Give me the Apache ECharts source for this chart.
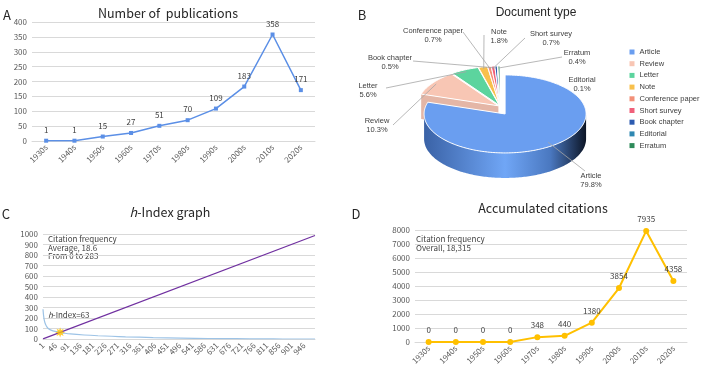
<!DOCTYPE html>
<html>
<head>
<meta charset="utf-8">
<title>Publications, document types, h-index and citations</title>
<script src="https://cdn.jsdelivr.net/npm/echarts@6/dist/echarts.min.js"></script>
<style>
  html, body { margin: 0; padding: 0; background: #fff; }
  #main { width: 721px; height: 377px; }
</style>
</head>
<body>
<div id="main"></div>
<script>
// ---- data ----
const decades = ['1930s', '1940s', '1950s', '1960s', '1970s', '1980s', '1990s', '2000s', '2010s', '2020s'];
const publications = [1, 1, 15, 27, 51, 70, 109, 183, 358, 171];
const citations = [0, 0, 0, 0, 348, 440, 1380, 3854, 7935, 4358];

const docTypes = ['Article', 'Review', 'Letter', 'Note', 'Conference paper', 'Short survey', 'Book chapter', 'Editorial', 'Erratum'];
const docShares = [79.8, 10.3, 5.6, 1.8, 0.7, 0.7, 0.5, 0.1, 0.4];

// h-index graph: papers ranked by citations, [rank, citations]
const paperCount = 986;
const rankedCitations = [[1, 283], [3, 225], [6, 175], [10, 140], [15, 115], [20, 100], [30, 85], [45, 72],
  [63, 63], [80, 55], [100, 48], [150, 38], [200, 31], [250, 26], [300, 21], [400, 14], [500, 9],
  [600, 5], [700, 3], [800, 1], [870, 0], [986, 0]];
const diagonal = [[1, 1], [986, 986]];
const hIndex = 63;

// ---- styles ----
const docColors = ['#6A9EF0', '#F8C6B4', '#5CD49E', '#F8C04C', '#F39078', '#F0607A', '#2C5BB0', '#2F88B2', '#2E8B5A'];
const FONT = '"Noto Sans CJK SC", "Noto Sans", sans-serif';
const ARIAL = '"Liberation Sans", Arial, sans-serif';
const PIE = { cx: 500, cy: 107, rx: 81, ry: 39, depth: 25, explodeMain: 8.6, explode: 2 };
// where each pie label sits: centre of first text line, and start of its leader line
const docLabelLayout = [
  { x: 591, y: 176, from: [585, 171], r: 0.9 },
  { x: 377, y: 121, from: [393, 125], r: 0.95 },
  { x: 368, y: 86, from: [386, 88], r: 0.95 },
  { x: 499, y: 32, from: [484, 35], r: 0.95 },
  { x: 433, y: 31, from: [463, 32], r: 0.95 },
  { x: 551, y: 34, from: [525, 38], r: 0.95 },
  { x: 390, y: 58, from: [413, 61], r: 0.95 },
  { x: 582, y: 80, from: null, r: 0.95 },
  { x: 577, y: 53, from: [562, 57], r: 0.95 }
];

const myChart = echarts.init(document.getElementById('main'), null, { renderer: 'canvas' });

function shade(hex, f) {
  const n = parseInt(hex.slice(1), 16);
  const r = Math.round(((n >> 16) & 255) * f);
  const g = Math.round(((n >> 8) & 255) * f);
  const b = Math.round((n & 255) * f);
  return 'rgb(' + r + ',' + g + ',' + b + ')';
}

// one slice of the tilted 3D pie
function renderDocSlice(params, api) {
  const i = params.dataIndex;
  const total = docShares.reduce((s, v) => s + v, 0);
  let before = 0;
  for (let k = 0; k < i; k++) before += docShares[k];
  const a0 = before / total * 2 * Math.PI;
  const a1 = (before + api.value(0)) / total * 2 * Math.PI;
  const mid = (a0 + a1) / 2;
  const ex = i === 0 ? PIE.explodeMain : PIE.explode;
  const cx = PIE.cx + ex * Math.sin(mid);
  const cy = PIE.cy - ex * Math.cos(mid);
  const D = PIE.depth;
  const pt = (a, r, dz) => [cx + r * PIE.rx * Math.sin(a), cy - r * PIE.ry * Math.cos(a) + dz];
  const arc = (s, e, dz) => {
    const n = Math.max(1, Math.ceil((e - s) / 0.02));
    const pts = [];
    for (let k = 0; k <= n; k++) pts.push(pt(s + (e - s) * k / n, 1, dz));
    return pts;
  };
  const color = docColors[i];
  const front = i === 0;
  const children = [];

  // the cut face that looks onto the pulled-out main slice
  if (i === 1) {
    const p = pt(a0, 1, 0);
    children.push({
      type: 'polygon', z2: 1,
      shape: { points: [[cx, cy], p, [p[0], p[1] + D], [cx, cy + D]] },
      style: { fill: shade(color, 0.92) }
    });
  }

  // outer wall (front half only)
  const s = Math.max(a0, Math.PI / 2), e = Math.min(a1, 1.5 * Math.PI);
  if (e > s) {
    const pts = arc(s, e, 0).concat(arc(s, e, D).reverse());
    children.push({
      type: 'polygon', z2: front ? 3.5 : 1.5,
      shape: { points: pts },
      style: {
        fill: front ? new echarts.graphic.LinearGradient(0, 0, 1, 0, [
          { offset: 0, color: '#3a62a6' },
          { offset: 0.5, color: '#70a6f6' },
          { offset: 0.78, color: '#4a78c0' },
          { offset: 1, color: '#0c1526' }
        ]) : shade(color, 0.7)
      }
    });
  }

  // top face
  children.push({
    type: 'polygon', z2: front ? 4 : 2,
    shape: { points: [[cx, cy]].concat(arc(a0, a1, 0)) },
    style: { fill: color, stroke: '#fff', lineWidth: 1 }
  });

  // label with leader line
  const lay = docLabelLayout[i];
  if (lay.from) {
    const anchor = pt(mid, lay.r, 0);
    children.push({
      type: 'line', z2: 5,
      shape: { x1: lay.from[0], y1: lay.from[1], x2: anchor[0], y2: anchor[1] },
      style: { stroke: '#a6a6a6', lineWidth: 0.8 }
    });
  }
  children.push({
    type: 'text', z2: 6,
    style: {
      x: lay.x, y: lay.y - 4.25,
      text: docTypes[i] + '\n' + api.value(0).toFixed(1) + '%',
      align: 'center', verticalAlign: 'top',
      fontSize: 7.5, lineHeight: 8.5, fontFamily: ARIAL, fill: '#404040'
    }
  });

  return { type: 'group', children: children };
}

// 8-pointed star marker
function starPath() {
  let d = '';
  for (let k = 0; k < 16; k++) {
    const a = k * Math.PI / 8;
    const r = k % 2 === 0 ? 10 : 5;
    d += (k === 0 ? 'M' : 'L') + (r * Math.sin(a)).toFixed(2) + ' ' + (-r * Math.cos(a)).toFixed(2);
  }
  return 'path://' + d + 'Z';
}

const ranks = Array.from({ length: paperCount }, (_, k) => String(k + 1));

const axisLabelStyle = { color: '#595959', fontSize: 8, fontFamily: FONT };
const yLabel = Object.assign({ margin: 5, formatter: v => String(v) }, axisLabelStyle);
const splitStyle = { lineStyle: { color: '#d9d9d9', width: 1 } };
const dataLabel = { show: true, position: 'top', distance: 5, color: '#404040', fontSize: 8, fontFamily: FONT };

function textEl(x, y, text, size, extra) {
  return {
    type: 'text', x: x, y: y,
    style: Object.assign({ text: text, fontSize: size, fontFamily: FONT, fill: '#262626',
      align: 'center', verticalAlign: 'middle' }, extra || {})
  };
}

const option = {
  animation: false,
  backgroundColor: '#fff',
  grid: [
    { left: 32, top: 22, width: 283, height: 119 },
    { left: 43, top: 234, width: 272, height: 105 },
    { left: 415, top: 230, width: 272, height: 112 }
  ],
  xAxis: [
    {
      gridIndex: 0, type: 'category', data: decades, boundaryGap: true,
      axisLine: { lineStyle: { color: '#d9d9d9' } }, axisTick: { show: false },
      axisLabel: Object.assign({ rotate: 45, margin: 5, interval: 0 }, axisLabelStyle)
    },
    {
      gridIndex: 1, type: 'category', data: ranks, boundaryGap: false,
      axisLine: { lineStyle: { color: '#d9d9d9' } }, axisTick: { show: false },
      axisLabel: Object.assign({ rotate: 45, margin: 5, interval: 44 }, axisLabelStyle)
    },
    {
      gridIndex: 2, type: 'category', data: decades, boundaryGap: true,
      axisLine: { lineStyle: { color: '#d9d9d9' } }, axisTick: { show: false },
      axisLabel: Object.assign({ rotate: 45, margin: 5, interval: 0 }, axisLabelStyle)
    }
  ],
  yAxis: [
    {
      gridIndex: 0, type: 'value', min: 0, max: 400, interval: 50,
      axisLine: { show: false }, axisTick: { show: false }, splitLine: splitStyle, axisLabel: yLabel
    },
    {
      gridIndex: 1, type: 'value', min: 0, max: 1000, interval: 100,
      axisLine: { show: false }, axisTick: { show: false }, splitLine: splitStyle, axisLabel: yLabel
    },
    {
      gridIndex: 2, type: 'value', min: 0, max: 8000, interval: 1000,
      axisLine: { show: false }, axisTick: { show: false }, splitLine: splitStyle, axisLabel: yLabel
    }
  ],
  legend: {
    orient: 'vertical', left: 629.5, top: 47.5, padding: 0,
    itemWidth: 5, itemHeight: 5, itemGap: 2.7, icon: 'rect', selectedMode: false,
    textStyle: { fontSize: 7.5, lineHeight: 9, color: '#404040', fontFamily: ARIAL },
    data: docTypes
  },
  series: [
    {
      name: 'Number of publications', type: 'line', xAxisIndex: 0, yAxisIndex: 0,
      data: publications, symbol: 'rect', symbolSize: 4,
      lineStyle: { color: '#5B8FE6', width: 1.5 }, itemStyle: { color: '#5B8FE6' },
      label: dataLabel
    },
    {
      name: 'Citations', type: 'line', xAxisIndex: 1, yAxisIndex: 1,
      data: rankedCitations.map(d => [String(d[0]), d[1]]), symbol: 'none', smooth: 0.3,
      lineStyle: { color: '#9DC3E6', width: 1.2 }
    },
    {
      name: 'Rank', type: 'line', xAxisIndex: 1, yAxisIndex: 1,
      data: diagonal.map(d => [String(d[0]), d[1]]), symbol: 'none',
      lineStyle: { color: '#7030A0', width: 1.2 }
    },
    {
      name: 'h-index', type: 'scatter', xAxisIndex: 1, yAxisIndex: 1,
      data: [[String(hIndex), hIndex]], symbol: starPath(), symbolSize: 10,
      itemStyle: { color: '#FFC000' }, z: 5
    },
    {
      name: 'Accumulated citations', type: 'line', xAxisIndex: 2, yAxisIndex: 2,
      data: citations, symbol: 'circle', symbolSize: 6,
      lineStyle: { color: '#FFC000', width: 2 }, itemStyle: { color: '#FFC000' },
      label: dataLabel
    },
    {
      name: 'Document type', type: 'custom', coordinateSystem: 'none',
      renderItem: renderDocSlice, silent: true,
      data: docShares.map((v, i) => ({ name: docTypes[i], value: v }))
    },
    {
      // carries the legend entries for the document types
      name: 'Document type legend', type: 'pie', radius: [0, 0], center: [-50, -50],
      label: { show: false }, labelLine: { show: false }, silent: true,
      data: docShares.map((v, i) => ({ name: docTypes[i], value: v, itemStyle: { color: docColors[i] } }))
    }
  ],
  graphic: [
    textEl(7, 15, 'A', 13),
    textEl(168, 13, 'Number of  publications', 12.5),
    textEl(362, 15, 'B', 13),
    textEl(536, 13, 'Document type', 12, { fontFamily: ARIAL }),
    textEl(6, 214, 'C', 13),
    textEl(170, 212, '{i|h}-Index graph', 12.5, {
      rich: { i: { fontStyle: 'italic', fontSize: 12.5, fontFamily: FONT, fill: '#262626' } }
    }),
    textEl(356, 214, 'D', 13),
    textEl(543, 208, 'Accumulated citations', 12.5),
    textEl(48, 247.5, 'Citation frequency\nAverage, 18.6\nFrom 0 to 283', 8,
      { align: 'left', lineHeight: 8.7, fill: '#404040' }),
    textEl(48, 315, '{i|h}-Index=63', 8, {
      align: 'left', fill: '#404040',
      rich: { i: { fontStyle: 'italic', fontSize: 8, fontFamily: FONT, fill: '#404040' } }
    }),
    textEl(416, 243.5, 'Citation frequency\nOverall, 18,315', 8,
      { align: 'left', lineHeight: 8.7, fill: '#404040' })
  ]
};

myChart.setOption(option);
window.addEventListener('resize', () => myChart.resize());
</script>
</body>
</html>
